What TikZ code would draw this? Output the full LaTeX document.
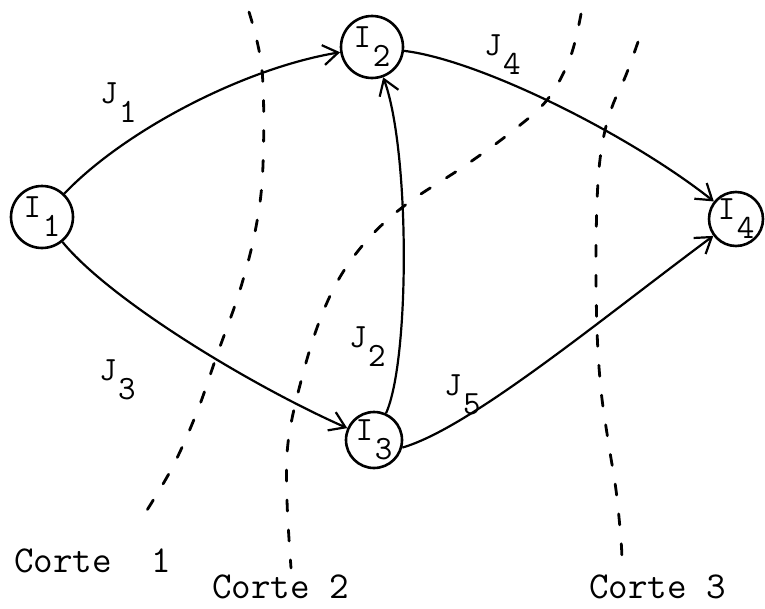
\documentclass[tikz,border=0pt]{standalone}
\usetikzlibrary{arrows.meta}
\newcommand\subdig[1]{\kern1.5pt\raisebox{-19pt}{#1}}
\begin{document}
\begin{tikzpicture}[x=1pt,y=-1pt,
  every node/.style={font=\fontsize{34}{38}\selectfont\ttfamily, inner sep=0pt},
  event/.style={circle, draw, line width=2.6pt, minimum size=#1},
  act/.style={line width=2.2pt, -{Straight Barb[length=15pt,width=20pt]}},
  cut/.style={line width=2.8pt, dash pattern=on 11pt off 19pt, line cap=round},
  cutlabel/.style={font=\fontsize{38}{42}\selectfont\ttfamily, anchor=base west},
  jl/.style={anchor=base west}]
\useasboundingbox (0,0) rectangle (765,608);

% events
\node[event=62pt] (I1) at (42,217) {I\subdig{1}};
\node[event=62pt] (I2) at (372,47) {I\subdig{2}};
\node[event=56pt] (I3) at (374,440) {I\subdig{3}};
\node[event=54pt] (I4) at (736,219) {I\subdig{4}};

% activities
\draw[act] (I1) .. controls (125,130) and (245,68) .. (I2);
\draw[act] (I1) .. controls (110,300) and (250,385) .. (I3);
\draw[act] (I3) .. controls (410,360) and (410,150) .. (I2);
\draw[act] (I2) .. controls (480,60) and (630,135) .. (I4);
\draw[act] (I3.-15) .. controls (470,428) and (600,320) .. (I4);

% activity labels
\node[jl] (J1) at (100,103) {J\subdig{1}};
\node[jl] (J3) at (99,380) {J\subdig{3}};
\node[jl] (J2) at (349,347) {J\subdig{2}};
\node[jl] (J4) at (484,55) {J\subdig{4}};
\node[jl] (J5) at (444,395) {J\subdig{5}};

% cuts
\draw[cut] plot[smooth, tension=0.6] coordinates {(249,12) (262,70) (263,165) (256,227) (240,290) (217,355) (197,412) (172,468) (142,518)};
\draw[cut] plot[smooth, tension=0.6] coordinates {(581,14) (570,58) (547,100) (510,133) (463,167) (408,203) (370,237) (340,277) (318,325) (300,385) (288,443) (287,500) (291,568)};
\draw[cut] plot[smooth, tension=0.6] coordinates {(638,42) (626,75) (612,107) (603,140) (598,182) (596,250) (597,330) (601,390) (608,440) (616,490) (621,540) (622,562)};

% cut labels
\node[cutlabel] (C1) at (14,572) {Corte~~1};
\node[cutlabel] (C2) at (212,598) {Corte 2};
\node[cutlabel] (C3) at (589,598) {Corte 3};
\end{tikzpicture}
\end{document}
